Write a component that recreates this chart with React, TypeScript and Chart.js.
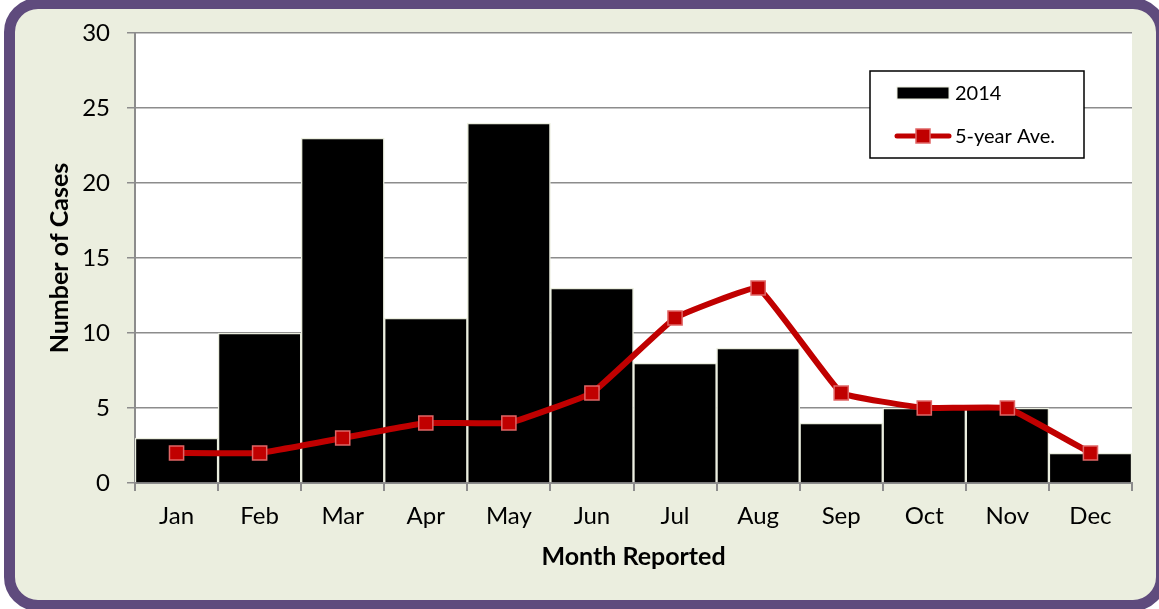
import React, { useEffect, useRef } from "react";
import { Chart, registerables } from "chart.js";

Chart.register(...registerables);

const months = ["Jan", "Feb", "Mar", "Apr", "May", "Jun", "Jul", "Aug", "Sep", "Oct", "Nov", "Dec"];
const cases2014 = [3, 10, 23, 11, 24, 13, 8, 9, 4, 5, 5, 2];
const fiveYearAve = [2, 2, 3, 4, 4, 6, 11, 13, 6, 5, 5, 2];
const seriesNames = ["2014", "5-year Ave."];
const yTitle = "Number of Cases";
const xTitle = "Month Reported";

const FONT = "Lato, 'Open Sans', sans-serif";
const BG = "#EBEEDF";
const RED = "#C00000";

const legendPlugin = {
  id: "boxLegend",
  afterDraw(chart: any) {
    const ctx = chart.ctx;
    ctx.save();
    const x0 = 870, y0 = 71, w = 214, h = 87;
    ctx.fillStyle = "#ffffff";
    ctx.fillRect(x0, y0, w, h);
    ctx.strokeStyle = "#000000";
    ctx.lineWidth = 1.5;
    ctx.strokeRect(x0, y0, w, h);
    // bar swatch
    ctx.fillStyle = "#000000";
    ctx.fillRect(897, 87, 52, 12);
    ctx.strokeStyle = BG;
    ctx.lineWidth = 1;
    ctx.strokeRect(897, 87, 52, 12);
    // line swatch
    ctx.strokeStyle = RED;
    ctx.lineWidth = 5;
    ctx.lineCap = "round";
    ctx.beginPath();
    ctx.moveTo(897, 136);
    ctx.lineTo(949, 136);
    ctx.stroke();
    ctx.fillStyle = RED;
    ctx.fillRect(916, 129, 14, 14);
    ctx.strokeStyle = "#E06666";
    ctx.lineWidth = 1.5;
    ctx.strokeRect(916, 129, 14, 14);
    ctx.fillStyle = "#000000";
    ctx.font = `20px ${FONT}`;
    ctx.textBaseline = "middle";
    ctx.textAlign = "left";
    ctx.fillText(seriesNames[0], 955, 94);
    ctx.fillText(seriesNames[1], 955, 137);
    ctx.restore();
  },
};

const plotBgPlugin = {
  id: "plotBg",
  beforeDraw(chart: any) {
    const { ctx, chartArea } = chart;
    ctx.save();
    ctx.fillStyle = "#ffffff";
    ctx.fillRect(chartArea.left, chartArea.top, chartArea.right - chartArea.left, chartArea.bottom - chartArea.top);
    ctx.restore();
  },
};

export default function App() {
  const ref = useRef<HTMLCanvasElement>(null);
  useEffect(() => {
    document.body.style.margin = "0";
    const chart = new Chart(ref.current!, {
      type: "bar",
      data: {
        labels: months,
        datasets: [
          {
            type: "line",
            label: seriesNames[1],
            data: fiveYearAve,
            borderColor: RED,
            borderWidth: 6,
            backgroundColor: RED,
            pointStyle: "rect",
            pointRadius: 10,
            pointBackgroundColor: RED,
            pointBorderColor: "#E06666",
            pointBorderWidth: 1.5,
            tension: 0.08,
            order: 1,
          } as any,
          {
            type: "bar",
            label: seriesNames[0],
            data: cases2014,
            backgroundColor: "#000000",
            borderColor: BG,
            borderWidth: 1.5,
            borderSkipped: "bottom",
            barPercentage: 1,
            categoryPercentage: 1,
            order: 2,
          },
        ],
      },
      options: {
        animation: false,
        responsive: false,
        maintainAspectRatio: false,
        layout: { padding: { left: 0, right: 27, top: 33, bottom: 0 } },
        plugins: { legend: { display: false }, tooltip: { enabled: false } },
        scales: {
          x: {
            afterFit(scale: any) {
              scale.height = 126;
            },
            grid: {
              offset: true,
              drawOnChartArea: false,
              drawTicks: true,
              tickLength: 8,
              color: "#8c8c8c",
              lineWidth: 2,
            },
            border: { color: "#8c8c8c", width: 2 },
            ticks: { color: "#000000", font: { family: FONT, size: 24 }, padding: 11, maxRotation: 0 },
            title: {
              display: true,
              text: xTitle,
              color: "#000000",
              font: { family: FONT, size: 25, weight: "bold" },
              padding: { top: 0, bottom: 37 },
            },
          },
          y: {
            min: 0,
            max: 30,
            afterFit(scale: any) {
              scale.width = 135;
            },
            grid: { color: "#8c8c8c", lineWidth: 1.5, tickLength: 8 },
            border: { color: "#8c8c8c", width: 2 },
            ticks: { stepSize: 5, color: "#000000", font: { family: FONT, size: 24 }, padding: 17 },
            title: {
              display: true,
              text: yTitle,
              color: "#000000",
              font: { family: FONT, size: 25, weight: "bold" },
              padding: { top: 45, bottom: 0 },
            },
          },
        },
      },
      plugins: [plotBgPlugin, legendPlugin],
    });
    return () => chart.destroy();
  }, []);

  return (
    <div style={{ position: "fixed", left: 0, top: 0, width: 1159, height: 609, background: "#ffffff", overflow: "hidden" }}>
      <div
        style={{
          position: "absolute",
          left: 4,
          top: -2,
          width: 1163,
          height: 613,
          boxSizing: "border-box",
          border: "11px solid #5F4B7D",
          borderRadius: 34,
          background: BG,
        }}
      />
      <canvas ref={ref} width={1159} height={609} style={{ position: "absolute", left: 0, top: 0, width: 1159, height: 609 }} />
    </div>
  );
}
